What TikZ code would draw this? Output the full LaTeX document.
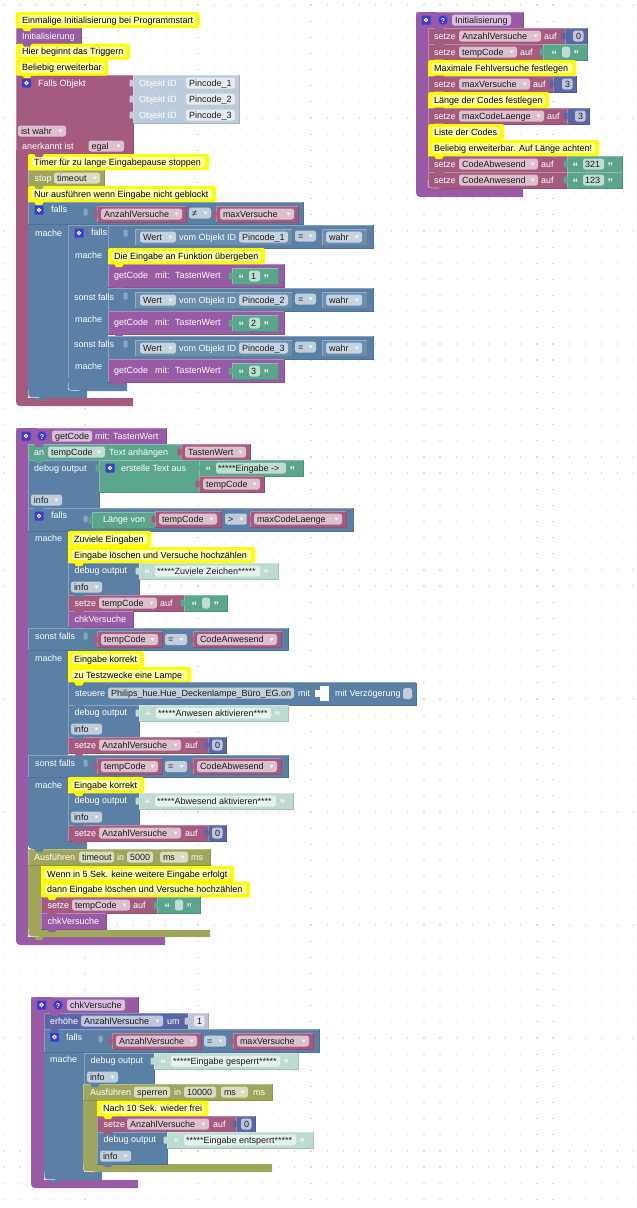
\documentclass[tikz,border=0pt]{standalone}
\usepackage{fontspec}
\setmainfont{Liberation Sans}
\usetikzlibrary{calc}

\definecolor{cVar}{HTML}{A55B80}
\definecolor{cProc}{HTML}{995BA5}
\definecolor{cText}{HTML}{5BA58C}
\definecolor{cLogic}{HTML}{5B80A5}
\definecolor{cMath}{HTML}{5B67A5}
\definecolor{cTime}{HTML}{9FA55B}
\definecolor{cNote}{HTML}{FFFC00}
\definecolor{cHalo}{HTML}{FFFFA8}
\definecolor{cObj}{HTML}{BDCCDB}
\definecolor{cPale}{HTML}{BDDBD1}
\definecolor{cPaleM}{HTML}{BDC2DB}
\definecolor{cGear}{HTML}{3A3AD8}
\definecolor{cInk}{HTML}{1C1C1C}

\tikzset{
  lab/.style={anchor=west,inner sep=0pt,yshift=-1pt,text=white,font=\fontsize{9}{10}\selectfont},
  ink/.style={lab,text=cInk},
  pill/.style={fill=white,fill opacity=.62,rounded corners=2.5pt},
}
\newcounter{labn}
% block with light top/left and dark bottom/right edge
\newcommand{\blk}[5]{
  \fill[#1] (#2,#3) rectangle (#4,#5);
  \draw[#1!72!white,line width=.6pt] (#2,#5) -- (#2,#3) -- (#4,#3);
  \draw[#1!88!black,line width=.5pt] (#2,#5) -- (#4,#5) -- (#4,#3);
}
% foot of a statement block: colour, x, inner x, right x, top, y of bar, y of bottom
\newcommand{\foot}[7]{
  \fill[#1] (#2,#5) [rounded corners=4pt] -- (#2,#7) [sharp corners] -- (#4,#7) -- (#4,#6) -- (#3,#6) -- (#3,#5) -- cycle;
}
% notch under a statement block
\newcommand{\notch}[3]{
  \fill[#1] (#2+6,#3-.5) -- (#2+8,#3+3) -- (#2+14,#3+3) -- (#2+16,#3-.5) -- cycle;
}
% light corner at the foot of a statement block
\newcommand{\crn}[3]{
  \draw[#1!45!white,line width=.6pt,rounded corners=3pt] (#2,#3-8) -- (#2,#3) -- (#2+11,#3);
}
\newcommand{\tab}[3]{
  \fill[#1,rounded corners=1pt] (#2+.5,#3-3.5) rectangle (#2-3.5,#3+3.5);
}
\newcommand{\txt}[3]{
  \stepcounter{labn}
  \node[lab] (t\arabic{labn}) at (#1,#2) {\strut #3};
}
% field, optionally with a drop-down mark
\newcommand{\fld}[4]{
  \fill[pill] (#1,#3-5.5) rectangle (#2,#3+5.5);
  \stepcounter{labn}
  \node[ink] (t\arabic{labn}) at (#1+2.8,#3) {\strut #4};
}
\newcommand{\dd}[4]{
  \fld{#1}{#2}{#3}{#4}
  \fill[white,opacity=.8] (#2-7.5,#3-1.5) -- (#2-3.5,#3-1.5) -- (#2-5.5,#3+1.5) -- cycle;
}
% comment row
\newcommand{\cmt}[4]{
  \fill[cNote,rounded corners=2pt] (#1,#2) rectangle (#3,#2+16);
  \fill[cHalo,rounded corners=2pt] (#1+4,#2+3) rectangle (#3-4,#2+13);
  \stepcounter{labn}
  \node[ink,text=black] (t\arabic{labn}) at (#1+6,#2+8) {\strut #4};
}
% variable reader
\newcommand{\vrb}[4]{
  \blk{cVar}{#1}{#3-8}{#2}{#3+8}
  \tab{cVar}{#1}{#3}
  \dd{#1+4}{#2-4}{#3}{#4}
}
% quoted text with colour, x1, x2, y, pill from, pill to, text
\newcommand{\quo}[7]{
  \blk{#1}{#2}{#4-8}{#3}{#4+8}
  \tab{#1}{#2}{#4}
  \fill[pill] (#5,#4-5.5) rectangle (#6,#4+5.5);
  \stepcounter{labn}
  \node[lab,font=\bfseries\fontsize{11}{11}\selectfont,yshift=-1.5pt] (t\arabic{labn}) at (#5-10.5,#4) {“};
  \stepcounter{labn}
  \node[lab,font=\bfseries\fontsize{11}{11}\selectfont,yshift=-1.5pt] (t\arabic{labn}) at (#6+3.5,#4) {”};
  \stepcounter{labn}
  \node[ink] (t\arabic{labn}) at (#5+2,#4) {\strut #7};
}
\newcommand{\num}[5]{
  \blk{#1}{#2}{#4-8}{#3}{#4+8}
  \tab{#1}{#2}{#4}
  \fld{#3-14}{#3-3.5}{#4}{#5}
}
\newcommand{\gear}[2]{
  \fill[cGear,rounded corners=1pt] (#1-4.5,#2-4.5) rectangle (#1+4.5,#2+4.5);
  \draw[white,line width=1pt] (#1,#2) circle (1.7pt);
}
\newcommand{\hlp}[2]{
  \fill[cGear] (#1,#2) circle (4.7pt);
  \stepcounter{labn}
  \node[lab,anchor=center,yshift=0pt,font=\bfseries\fontsize{7}{8}\selectfont] (t\arabic{labn}) at (#1,#2) {?};
}
% debug output with its info field: x, x2, y
\newcommand{\dbg}[3]{
  \blk{cLogic}{#1}{#3}{#2}{#3+32}
  \txt{#1+6.5}{#3+7.5}{debug output}
  \dd{#1+3}{#1+34}{#3+24}{info}
}
% set row: name, x, y, x2, end of the field
\newcommand{\setze}[5]{
  \blk{cVar}{#2}{#3}{#4}{#3+16}
  \txt{#2+6}{#3+8}{setze}
  \dd{#2+31}{#5}{#3+8}{#1}
  \txt{#5+3}{#3+8}{auf}
}

\begin{document}
\begin{tikzpicture}[x=1pt,y=-1pt]
\useasboundingbox (0,0) rectangle (637,1208);

% the dots of the workspace
\foreach \x in {0,...,39}
	\foreach \y in {0,...,74}
		\fill[gray!30] ({4.3+\x*16.14-.6},{6.2+\y*16.14-.6}) rectangle +(1.2,-1.2);

% ---- trigger block
\blk{cVar}{16}{75}{133}{154}
\fill[cVar] (16,150) rectangle (28,395);
\foot{cVar}{16}{28}{133}{390}{398}{406}
\cmt{16}{12}{199.5}{Einmalige Initialisierung bei Programmstart}
\blk{cProc}{16}{28}{81}{43.5}
\txt{22}{36}{Initialisierung}
\cmt{16}{43.5}{130}{Hier beginnt das Triggern}
\cmt{16}{59.5}{108}{Beliebig erweiterbar}
\notch{cNote}{16}{28}
\notch{cProc}{16}{43.5}
\notch{cNote}{16}{59.5}
\notch{cNote}{16}{75}
\gear{26.5}{83}
\txt{38}{83}{Falls Objekt}
\blk{cObj}{133}{75}{239}{123}
\foreach \y/\n in {83/1,99/2,115/3} {
	\tab{cObj}{133}{\y}
	\txt{139}{\y}{Objekt ID}
	\fld{186}{235}{\y}{Pincode\_\n}
}
\dd{18}{66}{131}{ist wahr}
\txt{22}{146}{anerkannt ist}
\dd{88.5}{124}{146}{egal}
\blk{cTime}{28}{170}{104}{186}
\txt{34.5}{178}{stop}
\dd{54}{100}{178}{timeout}
\cmt{28}{154}{209}{Timer für zu lange Eingabepause stoppen}
\cmt{28}{186}{216}{Nur ausführen wenn Eingabe nicht geblockt}
\notch{cVar}{28}{154}
\notch{cTime}{28}{186}

% outer if
\fill[cLogic] (28,224) rectangle (68,392);
\foot{cLogic}{28}{68}{87}{385}{390}{398}
\blk{cLogic}{28}{202}{303}{224}
\notch{cNote}{28}{202}
\notch{cLogic}{28}{398}
\crn{cLogic}{28.3}{397.5}
\gear{39}{210}
\txt{51}{209.5}{falls}
\txt{35}{233}{mache}
\tab{cLogic!70!white}{87}{212}
\vrb{97}{186}{214}{AnzahlVersuche}
\dd{189}{211}{213}{≠}
\vrb{216}{298}{214}{maxVersuche}

% inner if
\fill[cLogic] (68,225) rectangle (108,385);
\draw[cLogic!72!white,line width=.6pt] (108,225) -- (68,225) -- (68,382);
\foot{cLogic}{68}{108}{127}{378}{382}{391}
\notch{cLogic}{68}{391}
\crn{cLogic}{68.3}{390.5}
\foreach \y/\n/\yb in {225/1/264,288/2/311,336/3/359} {
	\blk{cLogic}{108}{\y}{373}{\y+23}
	\tab{cLogic!70!white}{127}{\y+8}
	\blk{cLogic!90!white}{135}{\y+4}{292}{\y+20}
	\dd{140}{176}{\y+12}{Wert}
	\txt{179}{\y+12}{vom Objekt ID}
	\fld{239}{288}{\y+12}{Pincode\_\n}
	\dd{295}{316}{\y+11}{=}
	\blk{cLogic!90!white}{322}{\y+4}{367}{\y+20}
	\dd{326}{362}{\y+12}{wahr}
	\blk{cProc}{108}{\yb}{284}{\yb+23}
	\notch{cProc}{108}{\yb+23}
	\txt{114}{\yb+11}{getCode}
	\txt{155}{\yb+11}{mit:}
	\txt{175}{\yb+11}{TastenWert}
	\quo{cText}{232}{278}{\yb+12}{249}{260}{\n}
}
\gear{79}{233}
\txt{91}{232.5}{falls}
\txt{75}{255}{mache}
\txt{74}{297}{sonst falls}
\txt{75}{319}{mache}
\txt{74}{344}{sonst falls}
\txt{75}{366}{mache}
\cmt{108}{248}{265}{Die Eingabe an Funktion übergeben}
\notch{cNote}{108}{264}

% ---- variables on the right
\blk{cProc}{416}{12}{523}{28}
\fill[cProc] (416,20) rectangle (428,185);
\foot{cProc}{416}{428}{523}{180}{188}{197}
\fill[cProc,rounded corners=4pt] (416,30) -- (416,12) -- (440,12) -- (440,30) -- cycle;
\gear{426}{20}
\hlp{443}{20}
\fld{452}{511}{20}{Initialisierung}
\setze{AnzahlVersuche}{428}{28}{565}{541}
\num{cMath}{565}{587}{36}{0}
\setze{tempCode}{428}{44}{543}{517}
\quo{cText}{543}{587}{52}{562}{570}{}
\cmt{428}{60}{576}{Maximale Fehlversuche festlegen}
\setze{maxVersuche}{428}{76}{553}{530}
\num{cMath}{553}{576}{84}{3}
\cmt{428}{92}{549}{Länge der Codes festlegen}
\setze{maxCodeLaenge}{428}{108}{567}{544}
\num{cMath}{567}{589}{116}{3}
\cmt{428}{124}{504}{Liste der Codes}
\cmt{428}{140}{599}{Beliebig erweiterbar. Auf Länge achten!}
\setze{CodeAbwesend}{428}{156}{567}{538}
\quo{cText}{567}{622}{164}{583}{604}{321}
\setze{CodeAnwesend}{428}{172}{567}{538}
\quo{cText}{567}{622}{180}{583}{604}{123}
\foreach \y in {44,76,108,172,188} {
	\notch{cVar}{428}{\y}
}
\foreach \y in {60,92,124,140,156} {
	\notch{cNote}{428}{\y}
}
\notch{cProc}{428}{28}
\crn{cProc}{428}{188}

% ---- getCode
\blk{cProc}{16}{428}{166}{444}
\fill[cProc] (16,436) rectangle (28,935);
\foot{cProc}{16}{28}{165}{930}{937}{945}
\fill[cProc,rounded corners=4pt] (16,446) -- (16,428) -- (40,428) -- (40,446) -- cycle;
\gear{26}{436}
\hlp{42}{436}
\fld{52}{92}{436}{getCode}
\txt{95}{436}{mit: TastenWert}
\blk{cText}{28}{444}{181}{460}
\txt{34}{452}{an}
\dd{48}{105}{452}{tempCode}
\txt{109}{452}{Text anhängen}
\vrb{181}{250}{452}{TastenWert}
\notch{cProc}{28}{444}
\blk{cLogic}{28}{460}{99}{508}
\notch{cText}{28}{460}
\txt{34}{468}{debug output}
\dd{31}{62}{500}{info}
\blk{cText}{99}{460}{199}{492}
\tab{cText}{99}{468}
\gear{110}{468}
\txt{121}{468}{erstelle Text aus}
\quo{cText}{199}{303}{468}{216}{286}{*****Eingabe ->}
\vrb{199}{264}{484}{tempCode}

\fill[cLogic] (28,531) rectangle (68,840);
\foot{cLogic}{28}{68}{87}{835}{841}{849}
\blk{cLogic}{28}{508}{353}{531}
\notch{cLogic}{28}{508}
\gear{39}{516}
\txt{51}{515.5}{falls}
\txt{35}{538}{mache}
\tab{cLogic!70!white}{87}{519}
\blk{cText}{92}{512}{155}{528}
\tab{cText}{92}{520}
\txt{103}{519}{Länge von}
\vrb{155}{221}{519}{tempCode}
\dd{225}{247}{519}{>}
\vrb{250}{346}{519}{maxCodeLaenge}
\cmt{68}{531}{151}{Zuviele Eingaben}
\cmt{68}{547}{255}{Eingabe löschen und Versuche hochzählen}
\notch{cNote}{68}{547}
\dbg{68}{139}{563}
\notch{cNote}{68}{563}
\quo{cPale}{139}{278}{571}{155}{260}{*****Zuviele Zeichen*****}
\blk{cVar}{68}{595}{184}{611}
\txt{74.5}{603}{setze}
\dd{99}{157}{603}{tempCode}
\txt{160}{603}{auf}
\quo{cText}{184}{227}{603}{202}{210}{}
\notch{cLogic}{68}{595}
\blk{cProc}{68}{611}{133}{627}
\txt{74.5}{619}{chkVersuche}
\notch{cVar}{68}{611}
\notch{cProc}{68}{627}

\foreach \y/\n in {628/CodeAnwesend,755/CodeAbwesend} {
	\blk{cLogic}{28}{\y}{288}{\y+22.5}
	\txt{35}{\y+8}{sonst falls}
	\txt{35}{\y+30}{mache}
	\tab{cLogic!70!white}{87}{\y+8}
	\vrb{97}{162}{\y+11.5}{tempCode}
	\dd{165}{187}{\y+11.5}{=}
	\vrb{193}{281}{\y+11.5}{\n}
}
\cmt{68}{651}{144}{Eingabe korrekt}
\cmt{68}{667}{191}{zu Testzwecke eine Lampe}
\notch{cNote}{68}{667}
\blk{cLogic}{68}{682.5}{416}{705}
\notch{cNote}{68}{682.5}
\txt{75}{693}{steuere}
\fld{108}{294}{693}{Philips\_hue.Hue\_Deckenlampe\_Büro\_EG.on}
\txt{298}{693}{mit}
\fill[white] (320,686) rectangle (328.5,701);
\fill[white] (315,690) rectangle (321,697);
\txt{335}{693}{mit Verzögerung}
\fld{403}{412}{693.5}{}
\dbg{68}{139}{705}
\notch{cLogic}{68}{705}
\quo{cPale}{139}{288}{713}{156}{271}{*****Anwesen aktivieren****}
\blk{cVar}{68}{737}{208}{753}
\txt{74.5}{745}{setze}
\dd{99}{181}{745}{AnzahlVersuche}
\txt{185}{745}{auf}
\num{cMath}{208}{226}{745}{0}
\notch{cLogic}{68}{737}
\notch{cVar}{68}{753}
\cmt{68}{777}{144}{Eingabe korrekt}
\dbg{68}{139}{793}
\notch{cNote}{68}{793}
\quo{cPale}{139}{293}{801}{155}{276}{*****Abwesend aktivieren****}
\blk{cVar}{68}{825}{208}{841}
\txt{74.5}{833}{setze}
\dd{99}{181}{833}{AnzahlVersuche}
\txt{185}{833}{auf}
\num{cMath}{208}{226}{833}{0}
\notch{cLogic}{68}{825}
\notch{cVar}{68}{841}

% timeout block
\fill[cTime] (28,860) rectangle (41,927);
\foot{cTime}{28}{41}{210}{925}{930}{937}
\blk{cTime}{28}{849}{210}{865.5}
\notch{cLogic}{28}{849}
\crn{cTime}{28.3}{936.5}
\txt{34}{857}{Ausführen}
\fld{79}{114}{857}{timeout}
\txt{117}{857}{in}
\fld{127}{153}{857}{5000}
\dd{160}{188}{857}{ms}
\txt{191}{857}{ms}
\cmt{41}{866}{234}{Wenn in 5 Sek. keine weitere Eingabe erfolgt}
\cmt{41}{881.5}{250}{dann Eingabe löschen und Versuche hochzählen}
\notch{cNote}{41}{881.5}
\blk{cVar}{41}{897}{157}{913}
\txt{47.5}{905}{setze}
\dd{72}{130}{905}{tempCode}
\txt{133}{905}{auf}
\quo{cText}{157}{200}{905}{175}{183}{}
\notch{cNote}{41}{897}
\blk{cProc}{41}{913}{106}{929}
\txt{47.5}{921}{chkVersuche}
\notch{cVar}{41}{913}
\notch{cProc}{41}{929}
\notch{cTime}{28}{937}

% ---- chkVersuche
\blk{cProc}{31}{997}{138}{1013}
\fill[cProc] (31,1005) rectangle (44,1175);
\foot{cProc}{31}{44}{138}{1170}{1180}{1188}
\fill[cProc,rounded corners=4pt] (31,1015) -- (31,997) -- (55,997) -- (55,1015) -- cycle;
\gear{41.5}{1005}
\hlp{58}{1005}
\fld{67}{125}{1005}{chkVersuche}
\blk{cMath}{44}{1013}{188}{1029}
\txt{50}{1021}{erhöhe}
\dd{81}{163}{1021}{AnzahlVersuche}
\txt{167}{1021}{um}
\num{cPaleM}{188}{208}{1021}{1}
\notch{cProc}{44}{1013}

\fill[cLogic] (44,1052) rectangle (84,1170);
\foot{cLogic}{44}{84}{102}{1165}{1172}{1180}
\blk{cLogic}{44}{1029}{319}{1052}
\notch{cMath}{44}{1029}
\notch{cLogic}{44}{1180}
\crn{cLogic}{44.3}{1179.5}
\gear{54.5}{1037}
\txt{66}{1037}{falls}
\txt{50}{1059}{mache}
\tab{cLogic!70!white}{102}{1039}
\vrb{112}{201}{1041}{AnzahlVersuche}
\dd{204}{226}{1041}{=}
\vrb{233}{313}{1041}{maxVersuche}
\dbg{84}{154}{1053}
\quo{cPale}{154}{298}{1061}{171}{280}{*****Eingabe gesperrt*****}
\fill[cTime] (83,1095) rectangle (97,1160);
\foot{cTime}{83}{97}{272}{1158}{1164}{1172}
\blk{cTime}{83}{1084}{272}{1100.5}
\notch{cLogic}{84}{1084}
\crn{cTime}{83.3}{1171.5}
\txt{90}{1092}{Ausführen}
\fld{134}{170}{1092}{sperren}
\txt{174}{1092}{in}
\fld{184}{216}{1092}{10000}
\dd{221}{248}{1092}{ms}
\txt{253}{1092}{ms}
\cmt{97}{1100.5}{208}{Nach 10 Sek. wieder frei}
\blk{cVar}{97}{1116}{236}{1132}
\txt{103.5}{1124}{setze}
\dd{127}{209}{1124}{AnzahlVersuche}
\txt{213}{1124}{auf}
\num{cMath}{236}{255}{1124}{0}
\notch{cNote}{97}{1116}
\dbg{97}{167}{1132}
\notch{cVar}{97}{1132}
\notch{cLogic}{97}{1164}
\quo{cPale}{167}{313}{1140}{184}{296}{*****Eingabe entsperrt*****}
\end{tikzpicture}
\end{document}
